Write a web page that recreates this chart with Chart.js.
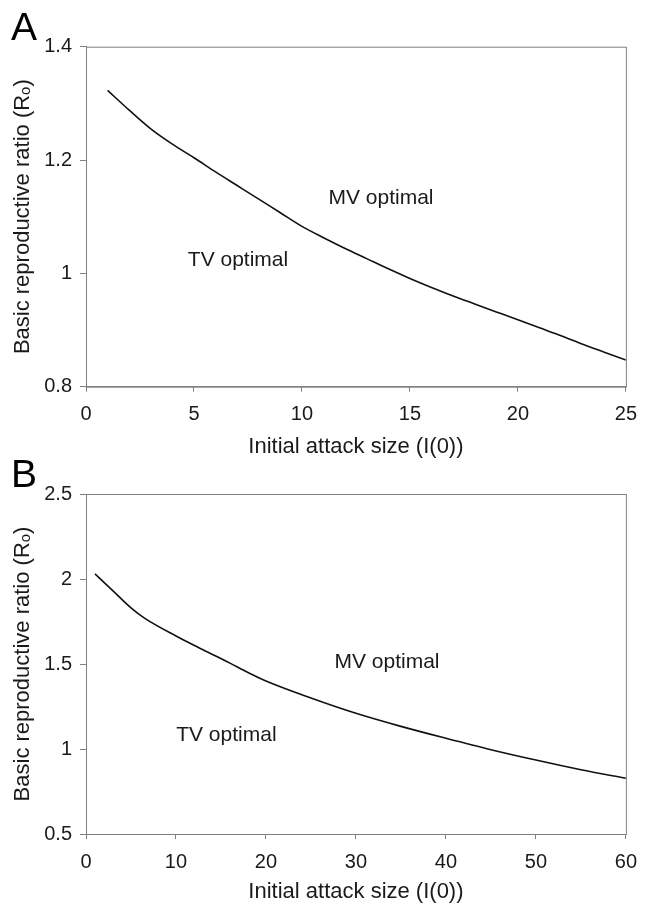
<!DOCTYPE html>
<html>
<head>
<meta charset="utf-8">
<script src="https://cdn.jsdelivr.net/npm/chart.js@4.4.0/dist/chart.umd.min.js"></script>
<style>
  html, body { margin: 0; padding: 0; background: #fff; }
  .panel { position: absolute; left: 0; width: 648px; }
  #panelA { top: 0; height: 460px; }
  #panelB { top: 460px; height: 448px; }
</style>
</head>
<body>
<div class="panel" id="panelA"><canvas id="chartA"></canvas></div>
<div class="panel" id="panelB"><canvas id="chartB"></canvas></div>
<script>
// Panel A: initial attack size 1..25
const attackA = [1, 2, 3, 4, 5, 6, 7, 8, 9, 10, 11, 12, 13, 14, 15, 16, 17, 18, 19, 20, 21, 22, 23, 24, 25];
const ratioA = [1.323, 1.288, 1.255, 1.228, 1.204, 1.179, 1.155, 1.131, 1.107, 1.083, 1.063, 1.044, 1.026,
                1.008, 0.991, 0.975, 0.960, 0.946, 0.932, 0.918, 0.904, 0.890, 0.875, 0.861, 0.847];

// Panel B: initial attack size 1..60
const attackB = [1, 3, 5, 6.5, 10, 13, 16, 18, 20, 25, 30, 35, 40, 45, 50, 55, 60];
const ratioB = [2.03, 1.93, 1.83, 1.77, 1.665, 1.584, 1.505, 1.45, 1.40, 1.30, 1.21, 1.133, 1.063, 0.996, 0.935, 0.878, 0.828];

const xTitle = 'Initial attack size (I(0))';
const yTitle = 'Basic reproductive ratio (R\u2092)';
const FONT = "'Liberation Sans', Arial, Helvetica, sans-serif";

// draws the box around the plot, the region labels and the panel letter
const framePlugin = {
    id: 'frame',
    afterDraw(chart, args, opts) {
        const ctx = chart.ctx;
        const a = chart.chartArea;
        const sx = chart.scales.x, sy = chart.scales.y;
        ctx.save();
        ctx.strokeStyle = '#808080';
        ctx.lineWidth = 1;
        ctx.strokeRect(a.left + 0.5, a.top + 0.5, a.right - a.left, a.bottom - a.top);

        ctx.fillStyle = '#1a1a1a';
        ctx.font = '21px ' + FONT;
        ctx.textAlign = 'center';
        ctx.textBaseline = 'middle';
        opts.notes.forEach(n => {
            ctx.fillText(n.text, sx.getPixelForValue(n.x), sy.getPixelForValue(n.y));
        });

        ctx.font = '39px ' + FONT;
        ctx.textAlign = 'left';
        ctx.textBaseline = 'alphabetic';
        ctx.fillStyle = '#000';
        ctx.fillText(opts.letter, 11, opts.letterY);
        ctx.restore();
    }
};

function makeChart(id, xs, ys, cfg) {
    const ctx = document.getElementById(id);
    return new Chart(ctx, {
        type: 'line',
        data: {
            datasets: [{
                data: xs.map((x, i) => ({ x: x, y: ys[i] })),
                borderColor: '#111',
                borderWidth: 1.6,
                pointRadius: 0,
                fill: false,
                cubicInterpolationMode: 'monotone'
            }]
        },
        options: {
            responsive: true,
            maintainAspectRatio: false,
            animation: false,
            layout: { padding: cfg.padding },
            scales: {
                x: {
                    type: 'linear',
                    min: 0,
                    max: cfg.xMax,
                    afterFit: s => { s.height = cfg.xHeight; },
                    ticks: {
                        stepSize: cfg.xStep,
                        color: '#1a1a1a',
                        padding: 11,
                        maxRotation: 0,
                        font: { family: FONT, size: 20 }
                    },
                    grid: { drawOnChartArea: false, drawTicks: true, tickLength: 5, color: '#808080' },
                    border: { display: true, color: '#808080' },
                    title: {
                        display: true,
                        text: xTitle,
                        color: '#1a1a1a',
                        padding: { top: 0, bottom: 0 },
                        font: { family: FONT, size: 22 }
                    }
                },
                y: {
                    type: 'linear',
                    min: cfg.yMin,
                    max: cfg.yMax,
                    afterFit: s => { s.width = 86; },
                    ticks: {
                        stepSize: cfg.yStep,
                        color: '#1a1a1a',
                        padding: 8,
                        font: { family: FONT, size: 20 },
                        callback: function(value) {
                            return String(Number(value.toFixed(2)));
                        }
                    },
                    grid: { drawOnChartArea: false, drawTicks: true, tickLength: 6, color: '#808080' },
                    border: { display: true, color: '#808080' },
                    title: {
                        display: true,
                        text: yTitle,
                        color: '#1a1a1a',
                        padding: { top: 10, bottom: 0 },
                        font: { family: FONT, size: 22 }
                    }
                }
            },
            plugins: {
                legend: { display: false },
                tooltip: { enabled: false },
                frame: { notes: cfg.notes, letter: cfg.letter, letterY: cfg.letterY }
            }
        },
        plugins: [framePlugin]
    });
}

document.addEventListener('DOMContentLoaded', function() {
    makeChart('chartA', attackA, ratioA, {
        padding: { top: 46.7, right: 11.3, bottom: 0, left: 0 },
        xHeight: 73.3, xMax: 25, xStep: 5,
        yMin: 0.8, yMax: 1.4, yStep: 0.2,
        letter: 'A', letterY: 40,
        notes: [
            { text: 'MV optimal', x: 13.66, y: 1.133 },
            { text: 'TV optimal', x: 7.04, y: 1.0235 }
        ]
    });

    makeChart('chartB', attackB, ratioB, {
        padding: { top: 34, right: 11.3, bottom: 3, left: 0 },
        xHeight: 71, xMax: 60, xStep: 10,
        yMin: 0.5, yMax: 2.5, yStep: 0.5,
        letter: 'B', letterY: 27,
        notes: [
            { text: 'MV optimal', x: 33.45, y: 1.512 },
            { text: 'TV optimal', x: 15.6, y: 1.082 }
        ]
    });
});
</script>
</body>
</html>
